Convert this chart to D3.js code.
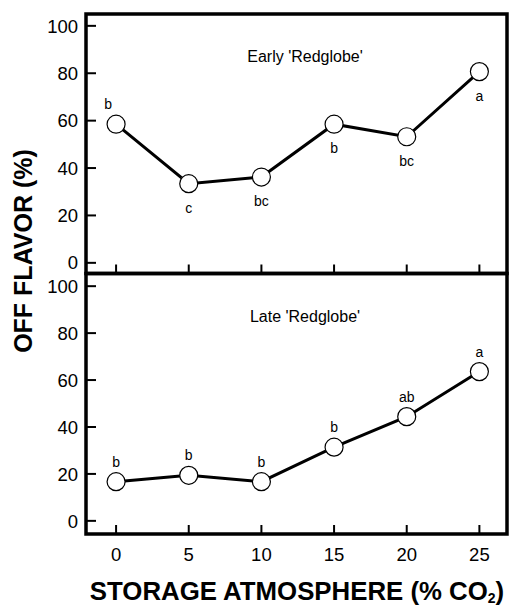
<!DOCTYPE html>
<html>
<head>
<meta charset="utf-8">
<script src="https://cdn.jsdelivr.net/npm/d3@7"></script>
<style>
  body { margin: 0; background: #fff; }
  svg { display: block; }
  text { font-family: "Liberation Sans", Arial, sans-serif; fill: #000; }
</style>
</head>
<body>
<div id="chart"></div>
<script>
// data
var co2 = [0, 5, 10, 15, 20, 25];
var xTicks = [0, 5, 10, 15, 20, 25];
var yTicks = [0, 20, 40, 60, 80, 100];

var earlyTitle = "Early 'Redglobe'";
var earlyValues = [58.5, 33.4, 36.2, 58.5, 53.2, 80.7];
var earlyLetters = ["b", "c", "bc", "b", "bc", "a"];
var earlyLetterSide = ["above", "below", "below", "below", "below", "below"];

var lateTitle = "Late 'Redglobe'";
var lateValues = [16.7, 19.4, 16.7, 31.4, 44.4, 63.6];
var lateLetters = ["b", "b", "b", "b", "ab", "a"];
var lateLetterSide = ["above", "above", "above", "above", "above", "above"];

var width = 509, height = 605;
var left = 86, right = 507;

var svg = d3.select("#chart").append("svg")
    .attr("width", width)
    .attr("height", height);

var x = d3.scaleLinear().domain([-2.07, 26.9]).range([left, right]);

var panels = [
    { title: earlyTitle, values: earlyValues, letters: earlyLetters, side: earlyLetterSide,
      y: d3.scaleLinear().domain([-4.5, 105]).range([273.5, 14]) },
    { title: lateTitle, values: lateValues, letters: lateLetters, side: lateLetterSide,
      y: d3.scaleLinear().domain([-5.6, 105.4]).range([534, 273.5]) }
];

var line = d3.line();

panels.forEach(function (p, k) {
    var g = svg.append("g");
    var y = p.y;
    var top = y.range()[1], bottom = y.range()[0];

    // y ticks pointing inward
    g.selectAll(".yt").data(yTicks).enter().append("line")
        .attr("x1", left).attr("x2", left + 10)
        .attr("y1", d => y(d)).attr("y2", d => y(d))
        .attr("stroke", "#000").attr("stroke-width", 2);

    g.selectAll(".yl").data(yTicks).enter().append("text")
        .attr("x", left - 8)
        .attr("y", d => y(d))
        .attr("dy", "0.36em")
        .attr("text-anchor", "end")
        .attr("font-size", 18.5)
        .text(d => d);

    // x ticks pointing up from the bottom edge
    g.selectAll(".xt").data(xTicks).enter().append("line")
        .attr("x1", d => x(d)).attr("x2", d => x(d))
        .attr("y1", bottom).attr("y2", bottom - 9)
        .attr("stroke", "#000").attr("stroke-width", 2);

    // panel title
    g.append("text")
        .attr("x", x(13))
        .attr("y", y(87))
        .attr("dy", "0.36em")
        .attr("text-anchor", "middle")
        .attr("font-size", 16)
        .text(p.title);

    // connecting line
    var pts = co2.map((c, i) => [x(c), y(p.values[i])]);
    g.append("path")
        .attr("d", line(pts))
        .attr("fill", "none")
        .attr("stroke", "#000")
        .attr("stroke-width", 3);

    g.selectAll("circle").data(co2).enter().append("circle")
        .attr("cx", d => x(d))
        .attr("cy", (d, i) => y(p.values[i]))
        .attr("r", 9)
        .attr("fill", "#fff")
        .attr("stroke", "#000")
        .attr("stroke-width", 1.2);

    // significance letters
    g.selectAll(".lt").data(co2).enter().append("text")
        .attr("x", (d, i) => x(d) + (k === 0 && i === 0 ? -8 : 0))
        .attr("y", (d, i) => y(p.values[i]) + (p.side[i] === "above" ? -20 : 24))
        .attr("dy", "0.36em")
        .attr("text-anchor", "middle")
        .attr("font-size", 14)
        .text((d, i) => p.letters[i]);

    // frame
    g.append("rect")
        .attr("x", left).attr("y", top)
        .attr("width", right - left).attr("height", bottom - top)
        .attr("fill", "none")
        .attr("stroke", "#000")
        .attr("stroke-width", 3.5);
});

// x tick labels under the lower panel
svg.selectAll(".xl").data(xTicks).enter().append("text")
    .attr("x", d => x(d))
    .attr("y", 554)
    .attr("dy", "0.36em")
    .attr("text-anchor", "middle")
    .attr("font-size", 18.5)
    .text(d => d);

// axis titles
var xt = svg.append("text")
    .attr("x", 297)
    .attr("y", 600)
    .attr("text-anchor", "middle")
    .attr("font-size", 25.8)
    .attr("font-weight", "bold");
xt.append("tspan").text("STORAGE ATMOSPHERE (% CO");
xt.append("tspan").attr("font-size", 14).attr("dy", 3).text("2");
xt.append("tspan").attr("dy", -3).text(")");

svg.append("text")
    .attr("transform", "translate(23,251) rotate(-90)")
    .attr("dy", "0.36em")
    .attr("text-anchor", "middle")
    .attr("font-size", 25)
    .attr("font-weight", "bold")
    .text("OFF FLAVOR (%)");
</script>
</body>
</html>
